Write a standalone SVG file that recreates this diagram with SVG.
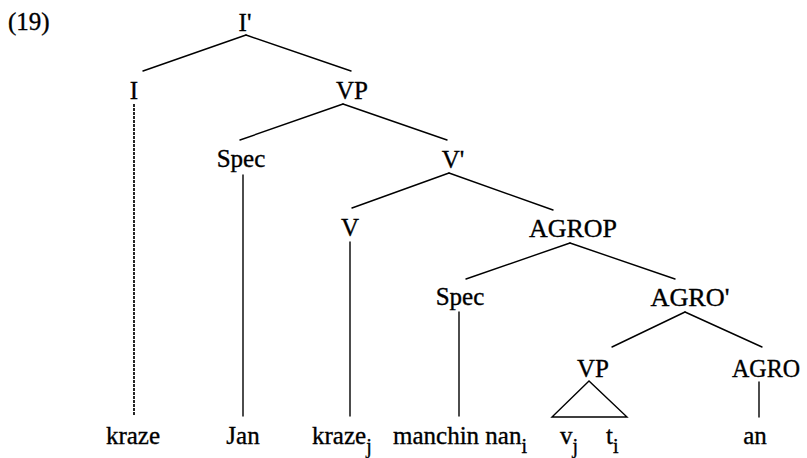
<svg xmlns="http://www.w3.org/2000/svg" width="807" height="458" viewBox="0 0 807 458">
<style>
text{font-family:"Liberation Serif","Times New Roman",serif;font-size:25px;fill:#000;stroke:#000;stroke-width:0.35}
.m{text-anchor:middle}
.sub{font-size:20px}
.e{stroke:#000;stroke-width:1.4;fill:none;stroke-linecap:round}
.d{stroke-width:1.7;stroke-dasharray:3 1;stroke-linecap:butt}
</style>
<rect width="807" height="458" fill="#fff"/>
<text x="8" y="30">(19)</text>
<g id="connectors">
<line class="e" x1="246" y1="35" x2="143" y2="71"/>
<line class="e" x1="246" y1="35" x2="351" y2="71"/>
<line class="e d" x1="134" y1="104" x2="134" y2="416"/>
<line class="e" x1="343" y1="104" x2="240" y2="140"/>
<line class="e" x1="343" y1="104" x2="447" y2="140"/>
<line class="e" x1="243" y1="175" x2="243" y2="416"/>
<line class="e" x1="449" y1="173" x2="352" y2="208"/>
<line class="e" x1="449" y1="173" x2="553" y2="210"/>
<line class="e" x1="350" y1="242" x2="350" y2="416"/>
<line class="e" x1="570" y1="243" x2="466" y2="279"/>
<line class="e" x1="570" y1="243" x2="675" y2="279"/>
<line class="e" x1="459" y1="312" x2="459" y2="416"/>
<line class="e" x1="685" y1="312" x2="612" y2="347"/>
<line class="e" x1="685" y1="312" x2="762" y2="347"/>
<line class="e" x1="759" y1="382" x2="759" y2="417"/>
<polygon class="e" points="589,381 552,417 627,417"/>
</g>
<g id="n-Ibar"><text class="m" x="245" y="31">I'</text></g>
<g id="n-I"><text class="m" x="134" y="99">I</text></g>
<g id="n-VP1"><text class="m" x="352" y="99">VP</text></g>
<g id="n-Spec1"><text class="m" x="241" y="167">Spec</text></g>
<g id="n-Vbar"><text class="m" x="453" y="168">V'</text></g>
<g id="n-V"><text class="m" x="350" y="236">V</text></g>
<g id="n-AGROP"><text class="m" x="573" y="237" textLength="88" lengthAdjust="spacingAndGlyphs">AGROP</text></g>
<g id="n-Spec2"><text class="m" x="460" y="305">Spec</text></g>
<g id="n-AGRObar"><text class="m" x="690" y="306" textLength="79" lengthAdjust="spacingAndGlyphs">AGRO'</text></g>
<g id="n-VP2"><text class="m" x="593" y="377">VP</text></g>
<g id="n-AGRO"><text class="m" x="766" y="377" textLength="68" lengthAdjust="spacingAndGlyphs">AGRO</text></g>
<g id="n-kraze1"><text class="m" x="133" y="444">kraze</text></g>
<g id="n-Jan"><text class="m" x="243" y="444">Jan</text></g>
<g id="n-kraze2"><text x="312" y="444">kraze<tspan class="sub" dy="9">j</tspan></text></g>
<g id="n-manchin"><text x="393" y="444">manchin nan<tspan class="sub" dy="9">i</tspan></text></g>
<g id="n-v"><text x="560" y="444">v<tspan class="sub" dy="9">j</tspan></text></g>
<g id="n-t"><text x="606" y="444">t<tspan class="sub" dy="9">i</tspan></text></g>
<g id="n-an"><text class="m" x="755" y="444">an</text></g>
</svg>
